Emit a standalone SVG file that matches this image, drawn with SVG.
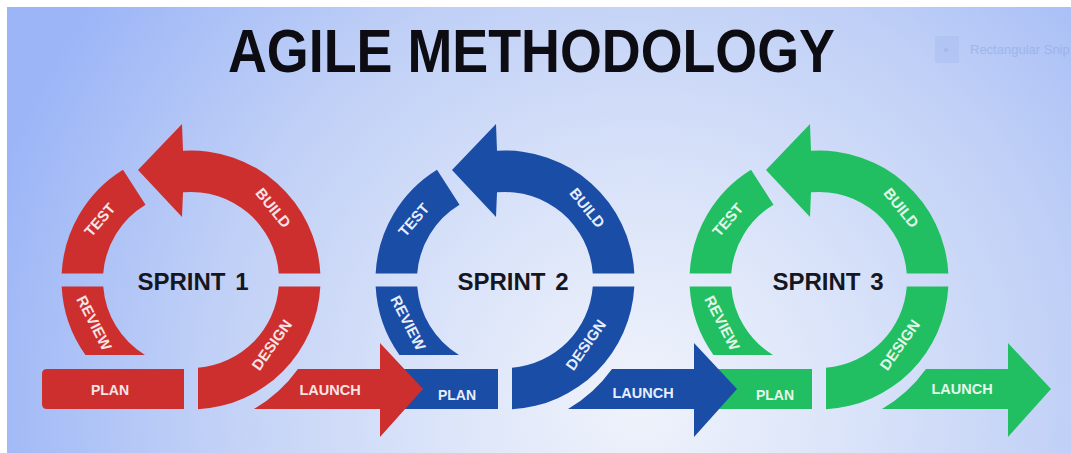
<svg xmlns="http://www.w3.org/2000/svg" width="1071" height="453" viewBox="0 0 1071 453">
<defs>
<radialGradient id="bg" gradientUnits="userSpaceOnUse" cx="640" cy="400" r="680">
<stop offset="0" stop-color="#f0f3fb"/>
<stop offset="0.3" stop-color="#dbe4f9"/>
<stop offset="0.65" stop-color="#bfcff6"/>
<stop offset="1" stop-color="#9bb5f7"/>
</radialGradient>
<path id="build" d="M -8 -129.25 A 129.5 129.5 0 0 1 129.34 -6.5 L 87.76 -6.5 A 88 88 0 0 0 -8 -87.64 L -9 -63 L -53 -110 L -9 -156 Z"/>
<path id="design" d="M 129.34 6.5 A 129.5 129.5 0 0 1 7 129.31 L 7 87.72 A 88 88 0 0 0 87.76 6.5 Z"/>
<path id="review" d="M -129.34 6.5 A 129.5 129.5 0 0 0 -105.57 75 L -46.03 75 A 88 88 0 0 1 -87.76 6.5 Z"/>
<path id="test" d="M -129.34 -6.5 A 129.5 129.5 0 0 1 -68 -110.2 L -45.5 -75.3 A 88 88 0 0 0 -87.76 -6.5 Z"/>
<path id="plan" d="M -7 89 L -144 89 Q -149 89 -149 94 L -149 124 Q -149 129 -144 129 L -7 129 Z"/>
<path id="launch" d="M 63 129 A 142 142 0 0 0 107 89 L 189 89 L 189 63 L 232 109 L 189 157 L 189 129 Z"/>
</defs>
<style>
.red{fill:#cd2f2f}
.blue{fill:#1a4da6}
.green{fill:#22bf62}
.seg{font-family:"Liberation Sans",Arial,sans-serif;font-weight:bold;font-size:15px;text-anchor:middle}
.pl{font-family:"Liberation Sans",Arial,sans-serif;font-weight:bold;font-size:14px;text-anchor:middle}
.lab{font-family:"Liberation Sans",Arial,sans-serif;font-weight:bold;font-size:14.5px;text-anchor:middle}
.tr{fill:#f8e4e4}
.tb{fill:#e6eeff}
.tg{fill:#e2f8ea}
.sprint{font-family:"Liberation Sans",Arial,sans-serif;font-weight:bold;font-size:24px;fill:#16161f;text-anchor:middle}
.title{font-family:"Liberation Sans",Arial,sans-serif;font-weight:bold;font-size:61px;fill:#0c0c12}
</style>
<rect x="0" y="0" width="1071" height="453" fill="#ffffff"/>
<rect x="7" y="7" width="1064" height="446" fill="url(#bg)"/>
<g id="title">
<text class="title" x="228" y="72" textLength="607" lengthAdjust="spacingAndGlyphs">AGILE METHODOLOGY</text>
</g>
<g id="snip" opacity="0.55">
<rect x="935" y="36" width="24" height="27" rx="2" fill="#aac0f4"/>
<circle cx="946" cy="50" r="2" fill="#8fa8e6"/>
<text x="970" y="54" font-family="Liberation Sans, Arial, sans-serif" font-size="13" fill="#8ea7e3">Rectangular Snip</text>
</g>

<g id="sprint1" transform="translate(191,280)">
<g id="s1-build"><use href="#build" class="red"/><text class="seg tr" transform="translate(82,-72) rotate(51)" dy="5">BUILD</text></g>
<g id="s1-design"><use href="#design" class="red"/><text class="seg tr" transform="translate(81,65) rotate(-55)" dy="5">DESIGN</text></g>
<g id="s1-review"><use href="#review" class="red"/><text class="seg tr" transform="translate(-97,43) rotate(63)" dy="5">REVIEW</text></g>
<g id="s1-test"><use href="#test" class="red"/><text class="seg tr" transform="translate(-91,-60) rotate(-49)" dy="5">TEST</text></g>
<g id="s1-plan"><use href="#plan" class="red"/><text class="pl tr" x="-81" y="115">PLAN</text></g>
<g id="s1-label"><text class="sprint" x="2" y="10">SPRINT <tspan dx="3">1</tspan></text></g>
</g>

<g id="sprint2" transform="translate(505,280)">
<g id="s2-build"><use href="#build" class="blue"/><text class="seg tb" transform="translate(82,-72) rotate(51)" dy="5">BUILD</text></g>
<g id="s2-design"><use href="#design" class="blue"/><text class="seg tb" transform="translate(81,65) rotate(-55)" dy="5">DESIGN</text></g>
<g id="s2-review"><use href="#review" class="blue"/><text class="seg tb" transform="translate(-97,43) rotate(63)" dy="5">REVIEW</text></g>
<g id="s2-test"><use href="#test" class="blue"/><text class="seg tb" transform="translate(-91,-60) rotate(-49)" dy="5">TEST</text></g>
<g id="s2-plan"><use href="#plan" class="blue"/><text class="pl tb" x="-48" y="120">PLAN</text></g>
<g id="s2-label"><text class="sprint" x="8" y="10">SPRINT <tspan dx="3">2</tspan></text></g>
</g>

<g id="sprint3" transform="translate(819,280)">
<g id="s3-build"><use href="#build" class="green"/><text class="seg tg" transform="translate(82,-72) rotate(51)" dy="5">BUILD</text></g>
<g id="s3-design"><use href="#design" class="green"/><text class="seg tg" transform="translate(81,65) rotate(-55)" dy="5">DESIGN</text></g>
<g id="s3-review"><use href="#review" class="green"/><text class="seg tg" transform="translate(-97,43) rotate(63)" dy="5">REVIEW</text></g>
<g id="s3-test"><use href="#test" class="green"/><text class="seg tg" transform="translate(-91,-60) rotate(-49)" dy="5">TEST</text></g>
<g id="s3-plan"><use href="#plan" class="green"/><text class="pl tg" x="-44" y="120">PLAN</text></g>
<g id="s3-label"><text class="sprint" x="9" y="10">SPRINT <tspan dx="3">3</tspan></text></g>
</g>

<g id="connectors">
<g id="s1-launch" transform="translate(191,280)"><use href="#launch" class="red"/><text class="lab tr" x="139" y="115">LAUNCH</text></g>
<g id="s2-launch" transform="translate(505,280)"><use href="#launch" class="blue"/><text class="lab tb" x="138" y="118">LAUNCH</text></g>
<g id="s3-launch" transform="translate(819,280)"><use href="#launch" class="green"/><text class="lab tg" x="143" y="114">LAUNCH</text></g>
</g>
</svg>
